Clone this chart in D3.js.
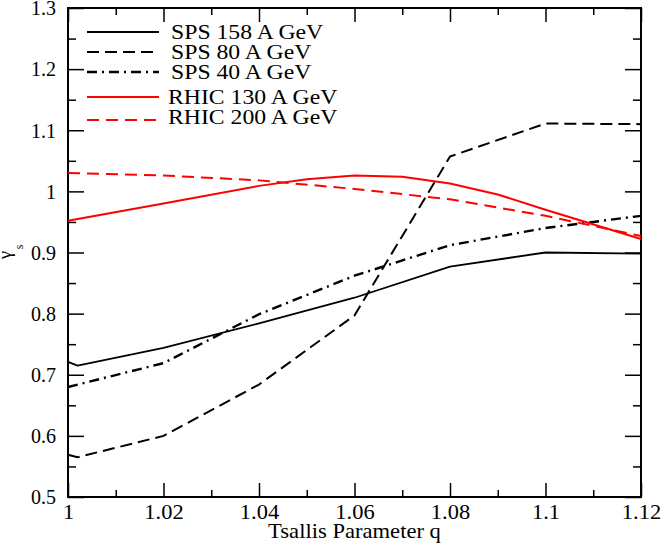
<!DOCTYPE html>
<html>
<head>
<meta charset="utf-8">
<script src="https://cdn.jsdelivr.net/npm/d3@7"></script>
<style>
  body { margin: 0; background: #fff; }
  svg { display: block; }
</style>
</head>
<body>
<svg id="plot" width="664" height="545"></svg>
<script>
const svg = d3.select('#plot');

// Data

const seriesNames = ['SPS 158 A GeV', 'SPS 80 A GeV', 'SPS 40 A GeV', 'RHIC 130 A GeV', 'RHIC 200 A GeV'];

const qSps158 = [1.0, 1.002, 1.02, 1.04, 1.06, 1.08, 1.1, 1.12];
const gSps158 = [0.721, 0.715, 0.744, 0.784, 0.826, 0.877, 0.900, 0.898];

const qSps80 = [1.0, 1.002, 1.02, 1.04, 1.06, 1.08, 1.1, 1.12];
const gSps80 = [0.569, 0.565, 0.600, 0.684, 0.797, 1.057, 1.111, 1.110];

const qSps40 = [1.0, 1.02, 1.04, 1.06, 1.08, 1.1, 1.12];
const gSps40 = [0.680, 0.719, 0.799, 0.862, 0.912, 0.940, 0.960];

const qRhic130 = [1.0, 1.02, 1.04, 1.05, 1.06, 1.07, 1.08, 1.09, 1.1, 1.12];
const gRhic130 = [0.952, 0.980, 1.009, 1.020, 1.026, 1.024, 1.013, 0.995, 0.970, 0.922];

const qRhic200 = [1.0, 1.02, 1.04, 1.06, 1.08, 1.1, 1.12];
const gRhic200 = [1.030, 1.026, 1.018, 1.004, 0.987, 0.960, 0.927];

const xTicks = [1, 1.02, 1.04, 1.06, 1.08, 1.1, 1.12];
const xMinorTicks = [1.01, 1.03, 1.05, 1.07, 1.09, 1.11];
const yTicks = [0.5, 0.6, 0.7, 0.8, 0.9, 1.0, 1.1, 1.2, 1.3];
const yMinorTicks = [0.55, 0.65, 0.75, 0.85, 0.95, 1.05, 1.15, 1.25];

const xLabel = 'Tsallis Parameter q';

// Layout

const margin = {top: 8, right: 23, bottom: 48, left: 68};
const innerWidth = 664 - margin.left - margin.right;
const innerHeight = 545 - margin.top - margin.bottom;
const font = '"Liberation Serif", "Times New Roman", serif';

const series = [
  {name: seriesNames[0], q: qSps158, g: gSps158, color: 'black', dash: null, width: 1.8},
  {name: seriesNames[1], q: qSps80, g: gSps80, color: 'black', dash: '12,6', width: 2},
  {name: seriesNames[2], q: qSps40, g: gSps40, color: 'black', dash: '10,5,2,5', width: 2.4},
  {name: seriesNames[3], q: qRhic130, g: gRhic130, color: '#ff0000', dash: null, width: 2},
  {name: seriesNames[4], q: qRhic200, g: gRhic200, color: '#ff0000', dash: '12,7', width: 2}
];

const xScale = d3.scaleLinear().domain([1, 1.12]).range([0, innerWidth]);
const yScale = d3.scaleLinear().domain([0.5, 1.3]).range([innerHeight, 0]);

const g = svg.append('g')
  .attr('transform', `translate(${margin.left}, ${margin.top})`);

// Axes: ticks point inward on all four sides

const styleAxis = sel => {
  sel.selectAll('.domain').remove();
  sel.selectAll('line').attr('stroke', 'black').attr('stroke-width', 1.5);
};
// tick-only axes: drop the empty labels
const ticksOnly = sel => {
  styleAxis(sel);
  sel.selectAll('text').remove();
};

g.append('g')
  .attr('transform', `translate(0, ${innerHeight})`)
  .call(d3.axisBottom(xScale).tickValues(xMinorTicks).tickSize(-7))
  .call(ticksOnly);

const xAxisG = g.append('g')
  .attr('transform', `translate(0, ${innerHeight})`)
  .call(d3.axisBottom(xScale).tickValues(xTicks).tickSize(-14).tickPadding(7)
    .tickFormat(d => d3.format('')(+d.toFixed(2))))
  .call(styleAxis);
xAxisG.selectAll('text')
  .attr('font-family', font)
  .attr('font-size', 21)
  .attr('fill', 'black')
  .attr('transform', 'scale(1.07,1)');

g.append('g')
  .call(d3.axisTop(xScale).tickValues(xMinorTicks).tickSize(-7))
  .call(ticksOnly);
g.append('g')
  .call(d3.axisTop(xScale).tickValues(xTicks).tickSize(-14))
  .call(ticksOnly);

g.append('g')
  .call(d3.axisLeft(yScale).tickValues(yMinorTicks).tickSize(-8))
  .call(ticksOnly);

const yAxisG = g.append('g')
  .call(d3.axisLeft(yScale).tickValues(yTicks).tickSize(-16).tickPadding(12)
    .tickFormat(d => d3.format('')(+d.toFixed(1))))
  .call(styleAxis);
yAxisG.selectAll('text')
  .attr('font-family', font)
  .attr('font-size', 20)
  .attr('fill', 'black')
  .attr('dy', '0.34em');

g.append('g')
  .attr('transform', `translate(${innerWidth}, 0)`)
  .call(d3.axisRight(yScale).tickValues(yMinorTicks).tickSize(-8))
  .call(ticksOnly);
g.append('g')
  .attr('transform', `translate(${innerWidth}, 0)`)
  .call(d3.axisRight(yScale).tickValues(yTicks).tickSize(-16))
  .call(ticksOnly);

// Frame
g.append('rect')
  .attr('width', innerWidth)
  .attr('height', innerHeight)
  .attr('fill', 'none')
  .attr('stroke', 'black')
  .attr('stroke-width', 2);

// Curves

const lineGenerator = d3.line()
  .x(d => xScale(d[0]))
  .y(d => yScale(d[1]));

series.forEach(s => {
  g.append('path')
    .attr('d', lineGenerator(d3.zip(s.q, s.g)))
    .attr('fill', 'none')
    .attr('stroke', s.color)
    .attr('stroke-width', s.width)
    .attr('stroke-dasharray', s.dash)
    .attr('stroke-linejoin', 'round');
});

// Axis titles

svg.append('text')
  .attr('transform', `translate(${margin.left + innerWidth / 2}, 538) scale(1.13,1)`)
  .attr('text-anchor', 'middle')
  .attr('font-family', font)
  .attr('font-size', 20)
  .text(xLabel);

svg.append('text')
  .attr('transform', 'translate(11, 255) rotate(-90)')
  .attr('text-anchor', 'middle')
  .attr('font-family', font)
  .attr('font-size', 19)
  .text('γ');

svg.append('text')
  .attr('transform', 'translate(23, 247) rotate(-90)')
  .attr('text-anchor', 'middle')
  .attr('font-family', font)
  .attr('font-size', 12)
  .text('s');

// Legend

const legendLineY = [32, 52, 72, 97, 120];
const legendTextY = [38.5, 58.5, 78.5, 104, 123.5];

const legend = svg.append('g');
series.forEach((s, i) => {
  legend.append('line')
    .attr('x1', 87).attr('x2', 159)
    .attr('y1', legendLineY[i]).attr('y2', legendLineY[i])
    .attr('stroke', s.color)
    .attr('stroke-width', s.width)
    .attr('stroke-dasharray', s.dash);
  legend.append('text')
    .attr('transform', `translate(${i < 3 ? 171 : 168}, ${legendTextY[i]}) scale(1.13,1)`)
    .attr('font-family', font)
    .attr('font-size', 21)
    .text(s.name);
});
</script>
</body>
</html>
